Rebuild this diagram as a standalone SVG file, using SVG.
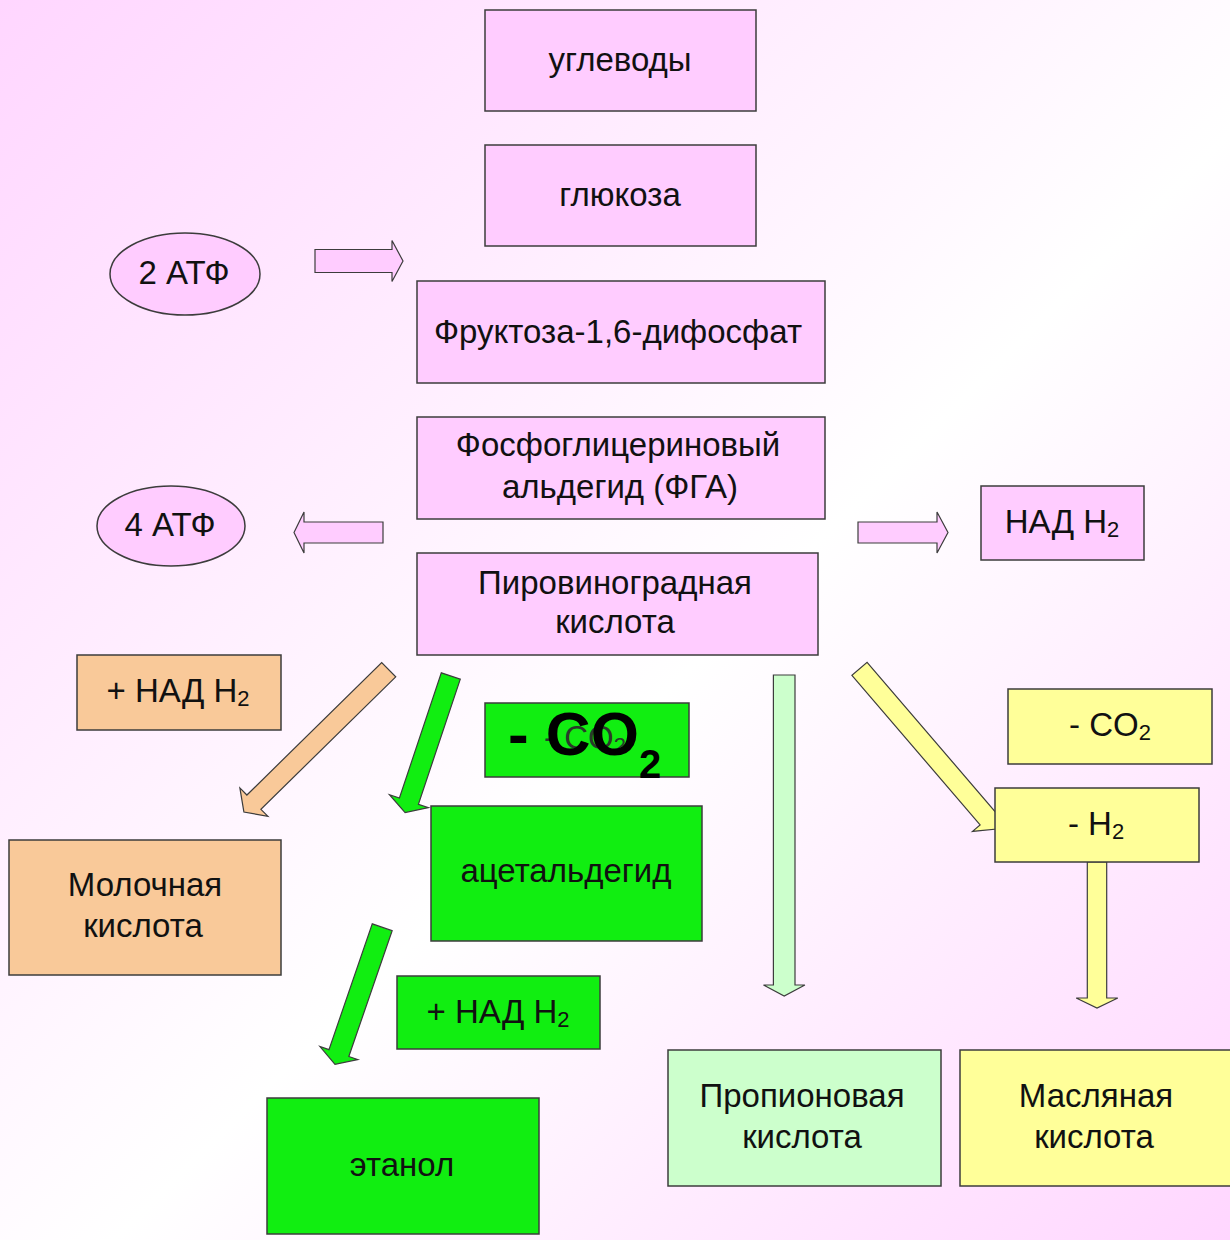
<svg xmlns="http://www.w3.org/2000/svg" width="1230" height="1240" viewBox="0 0 1230 1240">
<defs>
<linearGradient id="bg" x1="0" y1="0" x2="1230" y2="1240" gradientUnits="userSpaceOnUse">
<stop offset="0" stop-color="#FFD6FF"/>
<stop offset="0.55" stop-color="#FFFFFF"/>
<stop offset="1" stop-color="#FFD6FF"/>
</linearGradient>
<style>
.box{stroke:#3c3c3c;stroke-width:1.5}
.pink{fill:#FFCCFF}
.green{fill:#11EE11}
.orange{fill:#F9C999}
.yellow{fill:#FFFF99}
.lgreen{fill:#CCFFCC}
.arr{stroke:#3c3c3c;stroke-width:1.2;stroke-linejoin:miter}
.t{font-family:"Liberation Sans",Arial,sans-serif;font-size:33px;fill:#111;text-anchor:middle}
.sub{font-size:22px}
</style>
</defs>
<rect x="0" y="0" width="1230" height="1240" fill="url(#bg)"/>

<g id="connectors">
<polygon class="arr pink" points="0,-11.5 77,-11.5 77,-20.5 88,0 77,20.5 77,11.5 0,11.5" transform="translate(315,261)"/>
<polygon class="arr pink" points="0,-10.5 79,-10.5 79,-20.5 89,0 79,20.5 79,10.5 0,10.5" transform="translate(383,532.5) rotate(180)"/>
<polygon class="arr pink" points="0,-10.5 79,-10.5 79,-20.5 90,0 79,20.5 79,10.5 0,10.5" transform="translate(858,532.5)"/>
<polygon class="arr orange" points="0,-10 189,-10 189,-20 203,0 189,20 189,10 0,10" transform="translate(388.7,669.7) rotate(135.5)"/>
<polygon class="arr green" points="0,-10 132,-10 132,-20.5 144,0 132,20.5 132,10 0,10" transform="translate(450.8,676) rotate(108.5)"/>
<polygon class="arr green" points="0,-10.5 133,-10.5 133,-20 145,0 133,20 133,10.5 0,10.5" transform="translate(382.2,927.3) rotate(109)"/>
<polygon class="arr yellow" points="0,-10 197,-10 197,-20 211,0 197,20 197,10 0,10" transform="translate(859.5,668.8) rotate(49.4)"/>
<polygon class="arr lgreen" points="0,-10.8 310,-10.8 310,-20.7 321,0 310,20.7 310,10.8 0,10.8" transform="translate(784.2,675) rotate(90)"/>
<polygon class="arr yellow" points="0,-9.7 136,-9.7 136,-20.8 146,0 136,20.8 136,9.7 0,9.7" transform="translate(1097,862) rotate(90)"/>
</g>

<g id="n-uglevody"><rect class="box pink" x="485" y="10" width="271" height="101"/><text class="t" x="620" y="71">углеводы</text></g>
<g id="n-glukoza"><rect class="box pink" x="485" y="145" width="271" height="101"/><text class="t" x="620" y="206">глюкоза</text></g>
<g id="n-fructoza"><rect class="box pink" x="417" y="281" width="408" height="102"/><text class="t" x="618" y="343">Фруктоза-1,6-дифосфат</text></g>
<g id="n-fga"><rect class="box pink" x="417" y="417" width="408" height="102"/><text class="t" x="618" y="456">Фосфоглицериновый</text><text class="t" x="620" y="498">альдегид (ФГА)</text></g>
<g id="n-pvk"><rect class="box pink" x="417" y="553" width="401" height="102"/><text class="t" x="615" y="594">Пировиноградная</text><text class="t" x="615" y="633">кислота</text></g>
<g id="n-2atf"><ellipse class="box pink" cx="185" cy="274" rx="75" ry="41"/><text class="t" x="184" y="284">2 АТФ</text></g>
<g id="n-4atf"><ellipse class="box pink" cx="171" cy="526" rx="74" ry="40"/><text class="t" x="170" y="536">4 АТФ</text></g>
<g id="n-nadh2-r"><rect class="box pink" x="981" y="486" width="163" height="74"/><text class="t" x="1062" y="533">НАД H<tspan class="sub" dy="4">2</tspan></text></g>

<g id="n-nadh2-o"><rect class="box orange" x="77" y="655" width="204" height="75"/><text class="t" x="178" y="702">+ НАД H<tspan class="sub" dy="4">2</tspan></text></g>
<g id="n-moloch"><rect class="box orange" x="9" y="840" width="272" height="135"/><text class="t" x="145" y="896">Молочная</text><text class="t" x="143" y="937">кислота</text></g>

<g id="n-co2-g"><rect class="box green" x="485" y="703" width="204" height="74"/><text class="t" x="585" y="749" style="fill:#2a3a2a">- CO<tspan class="sub" dy="4">2</tspan></text><text x="508" y="755" style="font-family:'Liberation Sans',Arial,sans-serif;font-weight:bold;font-size:62px;fill:#000">- CO<tspan style="font-size:40px" dy="23">2</tspan></text></g>
<g id="n-acetald"><rect class="box green" x="431" y="806" width="271" height="135"/><text class="t" x="566" y="882">ацетальдегид</text></g>
<g id="n-nadh2-g"><rect class="box green" x="397" y="976" width="203" height="73"/><text class="t" x="498" y="1023">+ НАД H<tspan class="sub" dy="4">2</tspan></text></g>
<g id="n-etanol"><rect class="box green" x="267" y="1098" width="272" height="136"/><text class="t" x="402" y="1176">этанол</text></g>

<g id="n-propion"><rect class="box lgreen" x="668" y="1050" width="273" height="136"/><text class="t" x="802" y="1107">Пропионовая</text><text class="t" x="802" y="1148">кислота</text></g>
<g id="n-maslyan"><rect class="box yellow" x="960" y="1050" width="272" height="136"/><text class="t" x="1096" y="1107">Масляная</text><text class="t" x="1094" y="1148">кислота</text></g>
<g id="n-co2-y"><rect class="box yellow" x="1008" y="689" width="204" height="75"/><text class="t" x="1110" y="736">- CO<tspan class="sub" dy="4">2</tspan></text></g>
<g id="n-h2-y"><rect class="box yellow" x="995" y="788" width="204" height="74"/><text class="t" x="1096" y="835">- H<tspan class="sub" dy="4">2</tspan></text></g>
</svg>
